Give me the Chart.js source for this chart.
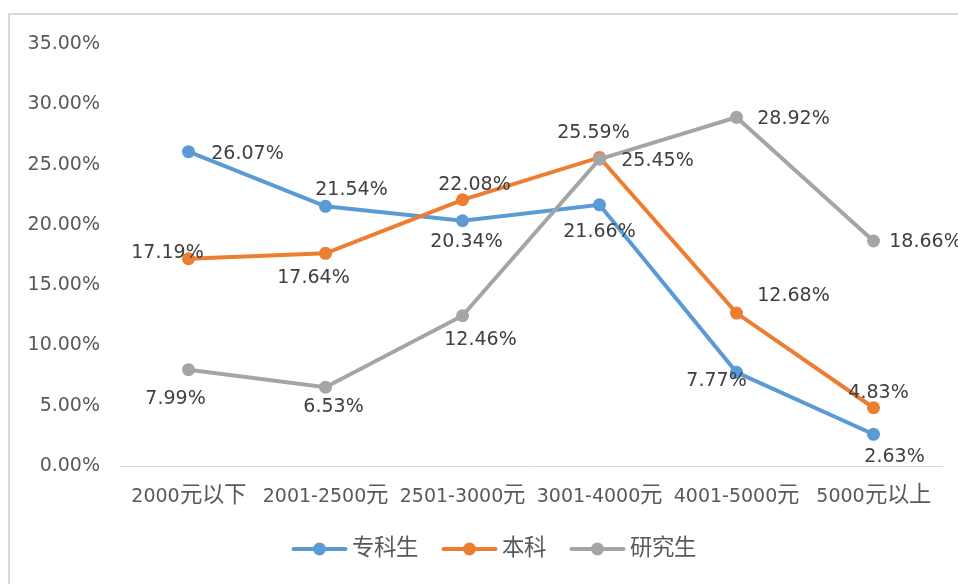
<!DOCTYPE html>
<html>
<head>
<meta charset="utf-8">
<style>
@font-face {
  font-family: "CJKWide";
  src: local("Noto Sans CJK SC"), local("Noto Sans CJK SC Regular"), local("NotoSansCJKsc-Regular");
  size-adjust: 118%;
  unicode-range: U+2E80-9FFF, U+F900-FAFF, U+FF00-FFEF;
}
html, body { margin: 0; padding: 0; background: #ffffff; }
#wrap { position: relative; width: 958px; height: 584px; }
</style>
<script src="https://cdn.jsdelivr.net/npm/chart.js@4/dist/chart.umd.min.js"></script>
</head>
<body>
<div id="wrap"><canvas id="c" width="958" height="584"></canvas></div>
<script>
// ---- data ----
const categories = ['2000元以下', '2001-2500元', '2501-3000元', '3001-4000元', '4001-5000元', '5000元以上'];
const seriesNames = ['专科生', '本科', '研究生'];
const zhuanke = [26.07, 21.54, 20.34, 21.66, 7.77, 2.63];
const benke = [17.19, 17.64, 22.08, 25.59, 12.68, 4.83];
const yanjiusheng = [7.99, 6.53, 12.46, 25.45, 28.92, 18.66];
const yTickMin = 0, yTickMax = 35, yTickStep = 5;

// ---- styles ----
const colors = ['#5B9BD5', '#ED7D31', '#A5A5A5'];
const FONT_FAMILY = '"DejaVu Sans", "CJKWide", "Noto Sans CJK SC", sans-serif';
// label offsets relative to each point (style, in px)
const labelOffsets = [
  [[59, 2], [26, -16], [4, 21], [0, 27], [-20, 9], [21, 23]],
  [[-21, -6], [-12, 25], [12, -15], [-6, -24], [57, -17], [5, -15]],
  [[-13, 29], [8, 20], [18, 24], [58, 2], [57, 2], [52, 1]]
];

const frame = {
  id: 'frame',
  beforeDraw(chart) {
    const ctx = chart.ctx;
    ctx.save();
    ctx.fillStyle = '#ffffff';
    ctx.fillRect(0, 0, chart.width, chart.height);
    ctx.strokeStyle = '#D9D9D9';
    ctx.lineWidth = 2;
    ctx.beginPath();
    ctx.moveTo(9, chart.height);
    ctx.lineTo(9, 14);
    ctx.lineTo(chart.width, 14);
    ctx.stroke();
    ctx.restore();
  }
};

const dataLabels = {
  id: 'dataLabels',
  afterDatasetsDraw(chart) {
    const ctx = chart.ctx;
    ctx.save();
    ctx.font = '19px ' + FONT_FAMILY;
    ctx.fillStyle = '#404040';
    ctx.textAlign = 'center';
    ctx.textBaseline = 'middle';
    chart.data.datasets.forEach((ds, di) => {
      const meta = chart.getDatasetMeta(di);
      meta.data.forEach((pt, i) => {
        const off = labelOffsets[di][i];
        ctx.fillText(ds.data[i].toFixed(2) + '%', pt.x + off[0], pt.y + off[1]);
      });
    });
    ctx.restore();
  }
};

const customLegend = {
  id: 'customLegend',
  afterDraw(chart) {
    const ctx = chart.ctx;
    ctx.save();
    ctx.font = '19px ' + FONT_FAMILY;
    ctx.textBaseline = 'middle';
    ctx.textAlign = 'left';
    const lineLen = 54, gapText = 5, gapItem = 25;
    const widths = chart.data.datasets.map(ds => lineLen + gapText + ctx.measureText(ds.label).width);
    const total = widths.reduce((a, b) => a + b, 0) + gapItem * (widths.length - 1);
    const cx = 494;
    const y = 549;
    let x = cx - total / 2;
    chart.data.datasets.forEach((ds, i) => {
      ctx.strokeStyle = ds.borderColor;
      ctx.lineWidth = 4;
      ctx.lineCap = 'round';
      ctx.beginPath();
      ctx.moveTo(x + 1, y);
      ctx.lineTo(x + lineLen - 1, y);
      ctx.stroke();
      ctx.fillStyle = ds.borderColor;
      ctx.beginPath();
      ctx.arc(x + lineLen / 2, y, 6.5, 0, Math.PI * 2);
      ctx.fill();
      ctx.fillStyle = '#595959';
      ctx.fillText(ds.label, x + lineLen + gapText, y + 1);
      x += widths[i] + gapItem;
    });
    ctx.restore();
  }
};

function makeDataset(label, data, color, order) {
  return {
    label, data,
    borderColor: color,
    backgroundColor: color,
    pointBackgroundColor: color,
    pointBorderColor: color,
    pointBorderWidth: 0,
    pointRadius: 6.5,
    borderWidth: 4,
    tension: 0,
    fill: false,
    order
  };
}

function build() {
  new Chart(document.getElementById('c'), {
    type: 'line',
    data: {
      labels: categories,
      datasets: [
        makeDataset(seriesNames[0], zhuanke, colors[0], 3),
        makeDataset(seriesNames[1], benke, colors[1], 2),
        makeDataset(seriesNames[2], yanjiusheng, colors[2], 1)
      ]
    },
    options: {
      responsive: false,
      animation: false,
      devicePixelRatio: 1,
      layout: { padding: { top: 44, right: 16, left: 0, bottom: 0 } },
      plugins: { legend: { display: false }, tooltip: { enabled: false }, title: { display: false } },
      scales: {
        x: {
          offset: true,
          grid: { display: false, drawTicks: false },
          border: { display: true, color: '#D9D9D9', width: 1 },
          ticks: {
            color: '#595959',
            font: { family: FONT_FAMILY, size: 19 },
            padding: 20,
            maxRotation: 0,
            autoSkip: false
          },
          afterFit(scale) { scale.height = 118; }
        },
        y: {
          min: yTickMin,
          max: yTickMax,
          grid: { display: false, drawTicks: false },
          border: { display: false },
          ticks: {
            stepSize: yTickStep,
            color: '#595959',
            font: { family: FONT_FAMILY, size: 19 },
            padding: 20,
            callback: v => Number(v).toFixed(2) + '%'
          },
          afterFit(scale) { scale.width = 120; }
        }
      }
    },
    plugins: [frame, dataLabels, customLegend]
  });
}

const fontReady = (document.fonts && document.fonts.load)
  ? Promise.all([
      document.fonts.load('19px "CJKWide"', '专科生本研究元以下上'),
      document.fonts.load('19px "DejaVu Sans"', '0123456789.%')
    ]).catch(() => null)
  : Promise.resolve();
fontReady.then(build, build);
</script>
</body>
</html>
